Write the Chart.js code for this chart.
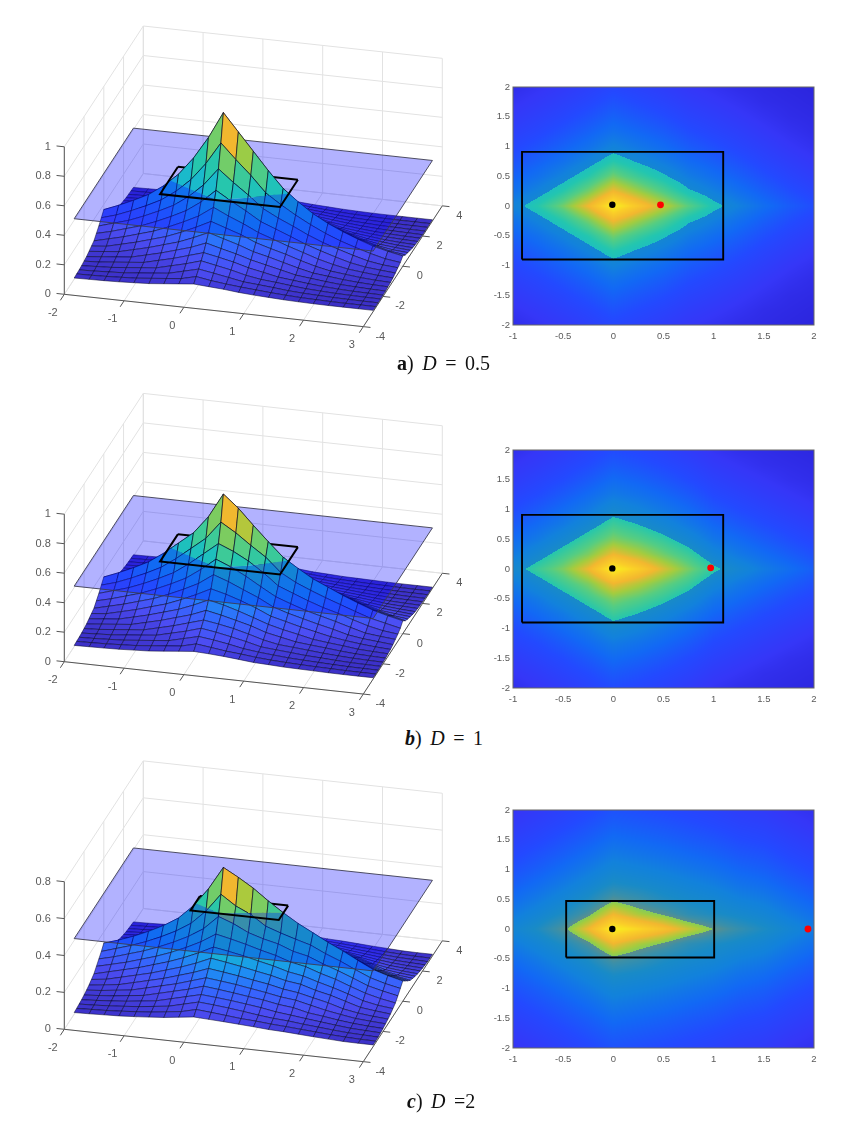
<!DOCTYPE html>
<html>
<head>
<meta charset="utf-8">
<script src="https://cdn.jsdelivr.net/npm/chart.js@4"></script>
<style>
  html, body { margin: 0; background: #fff; }
  body { position: relative; width: 851px; height: 1125px; overflow: hidden; }
  canvas { position: absolute; filter: blur(0.35px); }
  .cap { position: absolute; font: 20px "Liberation Serif", serif; word-spacing: 3.5px; color: #111; white-space: pre; }
</style>
</head>
<body>
<canvas id="s0" width="470" height="345" style="left:0;top:10px"></canvas>
<canvas id="h0" width="360" height="278" style="left:473px;top:77px"></canvas>
<div class="cap" style="left:397px;top:352px"><b>a</b>) <i>D</i> = 0.5</div>
<canvas id="s1" width="470" height="345" style="left:0;top:380px"></canvas>
<canvas id="h1" width="360" height="278" style="left:473px;top:440px"></canvas>
<div class="cap" style="left:405px;top:727px"><b><i>b</i></b>) <i>D</i> = 1</div>
<canvas id="s2" width="470" height="345" style="left:0;top:750px"></canvas>
<canvas id="h2" width="360" height="278" style="left:473px;top:800px"></canvas>
<div class="cap" style="left:407px;top:1090px"><b><i>c</i></b>) <i>D</i> =2</div>
<script>
// grid of the surfaces
const xGrid = [-2, -1.75, -1.5, -1.25, -1, -0.75, -0.5, -0.25, 0, 0.25, 0.5, 0.75, 1, 1.25, 1.5, 1.75, 2, 2.25, 2.5, 2.75, 3];
const yGrid = [-3, -2.75, -2.5, -2.25, -2, -1.75, -1.5, -1.25, -1, -0.75, -0.5, -0.25, 0, 0.25, 0.5, 0.75, 1, 1.25, 1.5, 1.75, 2, 2.25, 2.5, 2.75, 3];

// surface height x 1000, one row per |y| = 0, 0.25 ... 3
const surfaceA = [
  [165,205,250,300,370,460,580,730,910,790,670,550,440,360,290,235,190,150,115,90,70],
  [135,165,205,250,300,370,460,580,730,628,532,424,356,295,241,193,153,120,90,65,51],
  [105,135,165,205,250,300,370,460,580,498,424,342,290,245,197,156,123,92,65,49,41],
  [80,105,135,165,205,250,300,370,460,399,342,280,241,201,159,126,95,67,49,39,31],
  [55,80,105,135,165,205,250,300,370,322,280,232,197,161,129,96,70,50,39,29,23],
  [45,55,80,105,135,165,205,250,300,266,232,189,159,132,100,72,51,40,29,22,18],
  [35,45,55,80,105,135,165,205,250,219,189,153,129,102,75,52,41,30,22,17,14],
  [25,35,45,55,80,105,135,165,205,178,153,123,100,77,53,42,31,22,17,13,11],
  [20,25,35,45,55,80,105,135,165,145,123,95,75,54,43,32,23,17,13,11,9],
  [15,20,25,35,45,55,80,105,135,115,95,70,53,44,33,23,18,13,11,9,8],
  [12,15,20,25,35,45,55,80,105,88,70,51,43,34,24,18,14,11,9,8,8],
  [10,12,15,20,25,35,45,55,80,63,51,41,33,25,19,14,11,9,8,8,8],
  [8,10,12,15,20,25,35,45,55,48,41,31,24,19,14,11,9,8,8,8,8]
];
const surfaceB = [
  [165,205,250,300,370,450,530,650,815,730,625,525,430,365,305,260,215,175,137,110,87],
  [135,165,205,250,300,370,450,530,650,588,514,445,352,296,253,214,178,142,108,85,62],
  [105,135,165,205,250,300,370,450,530,488,434,366,287,247,208,173,145,112,82,60,48],
  [80,105,135,165,205,250,300,370,450,408,356,296,239,202,168,141,115,86,58,47,38],
  [55,80,105,135,165,205,250,300,370,334,290,247,195,163,137,111,88,61,46,37,28],
  [45,55,80,105,135,165,205,250,300,274,241,203,158,133,107,85,63,48,36,27,21],
  [35,45,55,80,105,135,165,205,250,227,197,163,128,103,82,60,48,38,26,21,17],
  [25,35,45,55,80,105,135,165,205,184,159,133,99,78,57,47,38,28,20,16,13],
  [20,25,35,45,55,80,105,135,165,149,129,103,74,54,46,37,28,21,16,13,11],
  [15,20,25,35,45,55,80,105,135,119,99,78,53,44,36,27,22,16,12,10,9],
  [12,15,20,25,35,45,55,80,105,92,75,55,43,34,26,21,17,13,10,9,8],
  [10,12,15,20,25,35,45,55,80,67,53,44,33,25,20,16,13,11,9,8,8],
  [8,10,12,15,20,25,35,45,55,50,43,34,24,20,15,13,11,9,8,8,8]
];
const surfaceC = [
  [140,165,195,230,270,320,395,495,620,575,525,465,410,360,318,275,237,195,155,130,110],
  [115,140,165,195,230,270,320,395,495,440,403,348,320,295,272,234,202,165,130,107,90],
  [95,115,140,165,195,230,270,320,395,365,325,300,281,250,232,199,171,140,107,87,70],
  [75,95,115,140,165,195,230,270,320,302,282,259,239,212,196,168,145,115,87,67,52],
  [55,75,95,115,140,165,195,230,270,256,240,221,203,180,166,142,120,95,67,51,42],
  [45,55,75,95,115,140,165,195,230,217,203,187,172,152,141,117,99,75,51,41,33],
  [35,45,55,75,95,115,140,165,195,184,172,158,145,127,116,97,79,55,41,32,26],
  [28,35,45,55,75,95,115,140,165,156,146,133,120,105,96,77,59,45,32,26,21],
  [22,28,35,45,55,75,95,115,140,131,121,110,100,85,76,57,47,35,26,20,16],
  [17,22,28,35,45,55,75,95,115,108,100,90,79,65,56,46,37,28,20,16,13],
  [14,17,22,28,35,45,55,75,95,88,80,70,59,50,45,36,29,22,16,13,10],
  [11,14,17,22,28,35,45,55,75,68,60,52,47,40,35,29,23,17,13,10,9],
  [9,11,14,17,22,28,35,45,55,51,47,42,37,31,28,23,18,14,10,9,9]
];

// height of the translucent plane and the rectangles lying on it
const planeZ = 0.41;
const rectAX = [-0.91, 1.095, 1.095, -0.91, -0.91];
const rectAY = [-0.9, -0.9, 0.91, 0.91, -0.9];
const rectCX = [-0.47, 1.005, 1.005, -0.47, -0.47];
const rectCY = [-0.48, -0.48, 0.47, 0.47, -0.48];
const blackDotX = [-0.01, -0.01, -0.01];
const blackDotY = [0.02, 0.01, 0];
const redDotX = [0.47, 0.97, 1.94];
const redDotY = [0.02, 0.02, 0];

// tick labels
const xTicks3d = [-2, -1, 0, 1, 2, 3];
const yTicks3d = [-4, -2, 0, 2, 4];
const zTicksFull = [0, 0.2, 0.4, 0.6, 0.8, 1];
const zTicksShort = [0, 0.2, 0.4, 0.6, 0.8];
const xTicksMap = [-1, -0.5, 0, 0.5, 1, 1.5, 2];
const yTicksMap = [-2, -1.5, -1, -0.5, 0, 0.5, 1, 1.5, 2];

// colormap stops, 0..1 in steps of 0.1
const cmapStops = [[58,45,195],[76,78,244],[50,105,255],[25,150,240],[25,185,205],[35,198,175],[85,205,130],[163,204,63],[242,183,47],[250,205,40],[249,240,30]];

function cmap(t) {
  t = Math.max(0, Math.min(1, t)) * 10;
  const i = Math.min(9, Math.floor(t)), f = t - i;
  return cmapStops[i].map((c, k) => c + (cmapStops[i + 1][k] - c) * f);
}

const FONT = '"Liberation Sans", Arial, sans-serif';
const TICK_COLOR = '#5a5a5a';

function heightAt(table, i, j) { return table[Math.abs(j - 12)][i] / 1000; }

// cut one quad at the plane, keep the side asked for.
// the cut edge ends up as the closing edge so it gets no outline
function clipQuad(pts, below) {
  const out = [];
  const inside = p => below ? p[2] < planeZ : p[2] >= planeZ;
  for (let k = 0; k < pts.length; k++) {
    const a = pts[k], b = pts[(k + 1) % pts.length];
    if (inside(a)) out.push({p: a});
    if (inside(a) !== inside(b)) {
      const f = (planeZ - a[2]) / (b[2] - a[2]);
      out.push({p: [a[0] + (b[0] - a[0]) * f, a[1] + (b[1] - a[1]) * f, planeZ], cut: true});
    }
  }
  if (!out.length) return null;
  let start = -1;
  for (let k = 0; k < out.length; k++) {
    if (out[k].cut && out[(k + 1) % out.length].cut) start = (k + 1) % out.length;
  }
  if (start < 0) return out.concat(out[0]).map(o => o.p);
  return out.slice(start).concat(out.slice(0, start)).map(o => o.p);
}

function surfaceChart(id, table, top, oy, zScale, zTicks, zTop, rectX, rectY) {
  const project = (x, y, z) => ({
    x: 64.3 + (x + 2) * 59.8 + (y + 4) * 9.875,
    y: oy - top + (x + 2) * 6.47 - (y + 4) * 15.1 - z * zScale
  });
  const line = (p, color, width) => ({
    data: p.map(q => project(q[0], q[1], q[2])),
    showLine: true, borderColor: color, borderWidth: width, pointRadius: 0, fill: false, clip: false
  });
  const poly = (p, bg, border, width) => ({
    data: p.map(q => project(q[0], q[1], q[2])),
    showLine: true, backgroundColor: bg, borderColor: border, borderWidth: width,
    pointRadius: 0, fill: 'shape', clip: false
  });

  const zmax = heightAt(table, 8, 12);
  const under = [], over = [];
  for (let j = yGrid.length - 2; j >= 0; j--) {
    for (let i = 0; i < xGrid.length - 1; i++) {
      const corner = (a, b) => [xGrid[a], yGrid[b], heightAt(table, a, b)];
      const quad = [corner(i, j), corner(i + 1, j), corner(i + 1, j + 1), corner(i, j + 1)];
      const c = cmap(heightAt(table, i, j) / zmax).map(Math.round);
      const bg = 'rgb(' + c.join(',') + ')';
      const low = clipQuad(quad, true), high = clipQuad(quad, false);
      if (low) under.push(poly(low, bg, 'rgba(5,5,40,0.75)', 0.7));
      if (high) over.push(poly(high, bg, 'rgba(5,5,40,0.8)', 0.8));
    }
  }

  // box walls and floor
  const walls = [];
  const wall = '#e2e2e2';
  xTicks3d.forEach(x => {
    walls.push(line([[x, -4, 0], [x, 4, 0], [x, 4, zTop]], wall, 1));
  });
  yTicks3d.forEach(y => {
    walls.push(line([[3, y, 0], [-2, y, 0], [-2, y, zTop]], wall, 1));
  });
  zTicks.forEach(z => {
    walls.push(line([[-2, -4, z], [-2, 4, z], [3, 4, z]], wall, 1));
  });

  // axes and tick marks
  const axes = [];
  const axis = '#555';
  axes.push(line([[-2, -4, 0], [3, -4, 0], [3, 4, 0]], axis, 1));
  axes.push(line([[-2, -4, 0], [-2, -4, zTop]], axis, 1));
  xTicks3d.forEach(x => axes.push(line([[x, -4, 0], [x, -4.4, 0]], axis, 1)));
  yTicks3d.forEach(y => axes.push(line([[3, y, 0], [3.12, y, 0]], axis, 1)));
  zTicks.forEach(z => axes.push(line([[-2, -4, z], [-2.13, -4, z]], axis, 1)));

  const plane = poly([[-2, -3, planeZ], [3, -3, planeZ], [3, 3, planeZ], [-2, 3, planeZ], [-2, -3, planeZ]],
    'rgba(0,0,255,0.3)', '#3c3c50', 0.9);

  const rectBack = line([[rectX[2], rectY[2], planeZ], [rectX[3], rectY[3], planeZ]], '#000', 2);
  const rectRest = line([[rectX[3], rectY[3], planeZ], [rectX[0], rectY[0], planeZ], [rectX[1], rectY[1], planeZ], [rectX[2], rectY[2], planeZ]], '#000', 2);

  // painter order: index 0 is drawn last by Chart.js
  const drawOrder = [...walls, ...axes, ...under, plane, rectBack, ...over, rectRest];
  const datasets = drawOrder.reverse();

  const tickText = {
    id: 'tickText',
    afterDraw(chart) {
      const {ctx, scales} = chart;
      const px = p => [scales.x.getPixelForValue(p.x), scales.y.getPixelForValue(p.y)];
      ctx.save();
      ctx.font = '11px ' + FONT;
      ctx.fillStyle = TICK_COLOR;
      ctx.textBaseline = 'middle';
      ctx.textAlign = 'center';
      xTicks3d.forEach(x => {
        const [a, b] = px(project(x, -4, 0));
        ctx.fillText(String(x), a - 11.5, b + 18.5);
      });
      yTicks3d.forEach(y => {
        const [a, b] = px(project(3, y, 0));
        ctx.fillText(String(y), a + 17, b + 10);
      });
      ctx.textAlign = 'right';
      zTicks.forEach(z => {
        const [a, b] = px(project(-2, -4, z));
        ctx.fillText(String(z), a - 13.5, b);
      });
      ctx.restore();
    }
  };

  const el = document.getElementById(id);
  return new Chart(el, {
    type: 'scatter',
    data: {datasets},
    options: {
      responsive: false,
      animation: false,
      events: [],
      layout: {padding: 0},
      plugins: {legend: {display: false}, tooltip: {enabled: false}},
      scales: {
        x: {type: 'linear', display: false, min: 0, max: el.width},
        y: {type: 'linear', display: false, min: 0, max: el.height, reverse: true}
      }
    },
    plugins: [tickText]
  });
}

function heatChart(id, table, rectX, rectY, n) {
  const zmax = heightAt(table, 8, 12);
  const shade = {
    id: 'shade',
    beforeDatasetsDraw(chart) {
      const {ctx, chartArea: a, scales} = chart;
      const w = Math.round(a.width), h = Math.round(a.height);
      const off = document.createElement('canvas');
      off.width = w; off.height = h;
      const oc = off.getContext('2d');
      const img = oc.createImageData(w, h);
      for (let py = 0; py < h; py++) {
        const y = scales.y.getValueForPixel(a.top + py + 0.5);
        const fj = (y + 3) / 0.25, j = Math.min(23, Math.floor(fj)), v = fj - j;
        for (let px = 0; px < w; px++) {
          const x = scales.x.getValueForPixel(a.left + px + 0.5);
          const fi = (x + 2) / 0.25, i = Math.min(19, Math.floor(fi)), u = fi - i;
          const z = (1 - v) * ((1 - u) * heightAt(table, i, j) + u * heightAt(table, i + 1, j)) +
                    v * ((1 - u) * heightAt(table, i, j + 1) + u * heightAt(table, i + 1, j + 1));
          const c = cmap(z / zmax);
          const o = (py * w + px) * 4;
          if (z < planeZ) {
            img.data[o] = c[0] * 0.7; img.data[o + 1] = c[1] * 0.7; img.data[o + 2] = c[2] * 0.7 + 76.5;
          } else {
            img.data[o] = c[0]; img.data[o + 1] = c[1]; img.data[o + 2] = c[2];
          }
          img.data[o + 3] = 255;
        }
      }
      oc.putImageData(img, 0, 0);
      ctx.drawImage(off, a.left, a.top, a.width, a.height);
    },
    afterDraw(chart) {
      const {ctx, chartArea: a} = chart;
      ctx.save();
      ctx.strokeStyle = '#666';
      ctx.lineWidth = 1;
      ctx.strokeRect(a.left, a.top, a.width, a.height);
      ctx.restore();
    }
  };
  const ticks = (list, pad) => ({
    autoSkip: false, maxRotation: 0, padding: pad, color: TICK_COLOR,
    font: {family: FONT, size: 9.5},
    callback: value => list.includes(value) ? String(value) : ''
  });
  return new Chart(document.getElementById(id), {
    type: 'scatter',
    data: {datasets: [
      {data: [{x: blackDotX[n], y: blackDotY[n]}], backgroundColor: '#000', borderWidth: 0, pointRadius: 3.2},
      {data: [{x: redDotX[n], y: redDotY[n]}], backgroundColor: '#ff0000', borderWidth: 0, pointRadius: 3.4},
      {data: rectX.map((x, k) => ({x, y: rectY[k]})), showLine: true, borderColor: '#000', borderWidth: 1.9, pointRadius: 0, fill: false}
    ]},
    options: {
      responsive: false,
      animation: false,
      events: [],
      layout: {padding: {left: 0, top: 10, right: 19, bottom: 0}},
      plugins: {legend: {display: false}, tooltip: {enabled: false}},
      scales: {
        x: {type: 'linear', min: -1, max: 2, grid: {display: false, drawTicks: false, tickLength: 0}, border: {display: false},
            afterBuildTicks: s => { s.ticks = xTicksMap.map(value => ({value})); },
            afterFit: s => { s.height = 30; }, ticks: ticks(xTicksMap, 6)},
        y: {type: 'linear', min: -2, max: 2, grid: {display: false, drawTicks: false, tickLength: 0}, border: {display: false},
            afterBuildTicks: s => { s.ticks = yTicksMap.map(value => ({value})); },
            afterFit: s => { s.width = 40; }, ticks: ticks(yTicksMap, 3)}
      }
    },
    plugins: [shade]
  });
}

surfaceChart('s0', surfaceA, 10, 294.3, 147.5, zTicksFull, 1, rectAX, rectAY);
surfaceChart('s1', surfaceB, 380, 661.7, 147.5, zTicksFull, 1, rectAX, rectAY);
surfaceChart('s2', surfaceC, 750, 1029.3, 184.5, zTicksShort, 0.8, rectCX, rectCY);
heatChart('h0', surfaceA, rectAX, rectAY, 0);
heatChart('h1', surfaceB, rectAX, rectAY, 1);
heatChart('h2', surfaceC, rectCX, rectCY, 2);
</script>
</body>
</html>
